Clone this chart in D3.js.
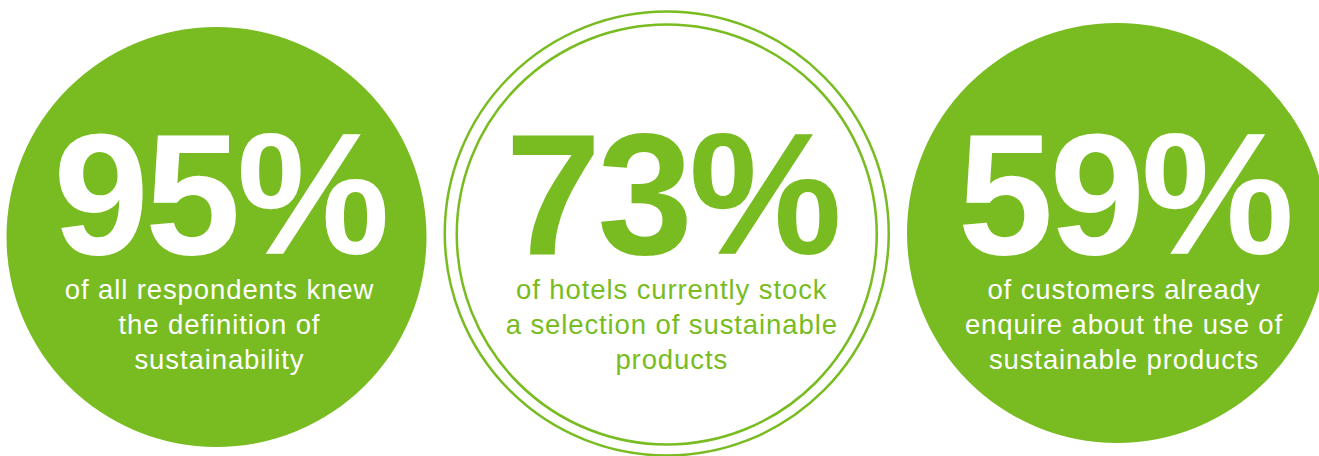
<!DOCTYPE html>
<html>
<head>
<meta charset="utf-8">
<script src="https://cdn.jsdelivr.net/npm/d3@7"></script>
<style>
  html, body { margin: 0; padding: 0; background: #fff; }
  svg { display: block; }
</style>
</head>
<body>
<svg id="chart" width="1319" height="456"></svg>
<script>
// ---- data ----
const values = [95, 73, 59];
const descriptions = [
  ["of all respondents knew", "the definition of", "sustainability"],
  ["of hotels currently stock", "a selection of sustainable", "products"],
  ["of customers already", "enquire about the use of", "sustainable products"]
];
const variants = ["filled", "outline", "filled"];

// ---- layout / style ----
const W = 1319, H = 456;
const green = "#78bc21";
const circleX = d3.scaleLinear().domain([0, 2]).range([216.5, 1117]);
const circleY = [237, 234, 233];
const textX = d3.scaleLinear().domain([0, 2]).range([219.5, 1124]);
const r = 210;
const outerR = 222;

const svg = d3.select("#chart");
const items = values.map((v, i) => ({ v, i, lines: descriptions[i], variant: variants[i] }));

const g = svg.selectAll("g.item").data(items).join("g").attr("class", "item");

// filled circles
g.filter(d => d.variant === "filled")
  .append("circle")
  .attr("cx", d => circleX(d.i))
  .attr("cy", d => circleY[d.i])
  .attr("r", r)
  .attr("fill", green);

// outlined double circle
const outl = g.filter(d => d.variant === "outline");
outl.append("circle")
  .attr("cx", d => circleX(d.i))
  .attr("cy", d => circleY[d.i] - 0.5)
  .attr("r", outerR)
  .attr("fill", "none")
  .attr("stroke", green)
  .attr("stroke-width", 2.5);
outl.append("circle")
  .attr("cx", d => circleX(d.i))
  .attr("cy", d => circleY[d.i] + 0.5)
  .attr("r", r)
  .attr("fill", "none")
  .attr("stroke", green)
  .attr("stroke-width", 2.5);

// big numbers
g.append("text")
  .attr("x", d => textX(d.i))
  .attr("y", 254)
  .attr("text-anchor", "middle")
  .attr("font-family", "'Liberation Sans', Arial, Helvetica, sans-serif")
  .attr("font-weight", "bold")
  .attr("font-size", 172)
  .attr("letter-spacing", -4)
  .attr("fill", d => d.variant === "filled" ? "#fff" : green)
  .text(d => d.v + "%");

// descriptions
g.each(function(d) {
  const t = d3.select(this).append("text")
    .attr("text-anchor", "middle")
    .attr("font-family", "'Liberation Sans', Arial, Helvetica, sans-serif")
    .attr("font-size", 27.5)
    .attr("letter-spacing", 0.9)
    .attr("fill", d.variant === "filled" ? "#fff" : green);
  t.selectAll("tspan").data(d.lines).join("tspan")
    .attr("x", textX(d.i))
    .attr("y", (s, k) => 299 + k * 35)
    .text(s => s);
});
</script>
</body>
</html>
